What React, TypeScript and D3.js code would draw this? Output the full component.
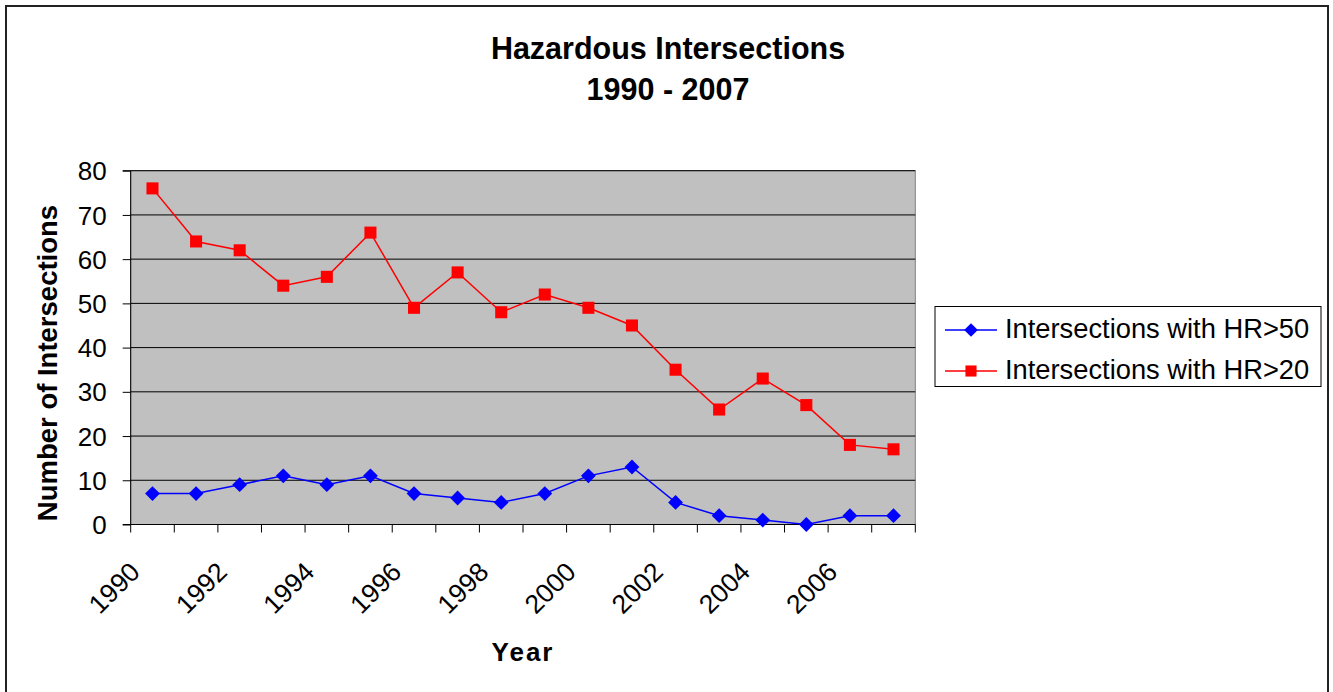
import * as d3 from 'd3';
import { useEffect, useRef, type FC } from 'react';

const years = d3.range(1990, 2008).map(String);
const hr50 = [7, 7, 9, 11, 9, 11, 7, 6, 5, 7, 11, 13, 5, 2, 1, 0, 2, 2];
const hr20 = [76, 64, 62, 54, 56, 66, 49, 57, 48, 52, 49, 45, 35, 26, 33, 27, 18, 17];
const yTicks = [0, 10, 20, 30, 40, 50, 60, 70, 80];
const seriesNames = ['Intersections with HR>50', 'Intersections with HR>20'];

const W = 1333;
const H = 692;
const font = 'Liberation Sans, Arial, sans-serif';

const App: FC = () => {
	const ref = useRef<SVGSVGElement>(null);

	useEffect(() => {
		const svg = d3.select(ref.current);
		svg.selectAll('*').remove();

		const margin = { left: 130.7, top: 170.7, right: 915.3, bottom: 524.5 };

		// рамка всей диаграммы
		svg
			.append('rect')
			.attr('x', 6)
			.attr('y', 6)
			.attr('width', 1322)
			.attr('height', 700)
			.attr('fill', '#fff')
			.attr('stroke', '#222')
			.attr('stroke-width', 2);

		const x = d3.scaleBand().domain(years).range([margin.left, margin.right]);
		const y = d3.scaleLinear().domain([0, 80]).range([margin.bottom, margin.top]);

		svg
			.append('rect')
			.attr('x', margin.left)
			.attr('y', margin.top)
			.attr('width', margin.right - margin.left)
			.attr('height', margin.bottom - margin.top)
			.attr('fill', '#c0c0c0')
			.attr('stroke', '#808080')
			.attr('stroke-width', 1);

		// сетка
		svg
			.append('g')
			.selectAll('line')
			.data(yTicks.filter((t) => t > 0))
			.enter()
			.append('line')
			.attr('x1', margin.left)
			.attr('x2', margin.right)
			.attr('y1', (d) => y(d))
			.attr('y2', (d) => y(d))
			.attr('stroke', '#000')
			.attr('stroke-width', 1);

		// ось Y
		const yAxis = d3.axisLeft(y).tickValues(yTicks).tickSize(8).tickPadding(16);
		const gy = svg.append('g').attr('transform', `translate(${margin.left},0)`).call(yAxis);
		gy.select('.domain').attr('stroke', '#000').attr('d', `M-8,${margin.bottom}H0V${margin.top}H-8`);
		gy.selectAll('line').attr('stroke', '#000');
		gy.selectAll('text').attr('font-family', font).attr('font-size', 26).attr('fill', '#000').attr('dy', '0.35em');

		// ось X
		const boundaries = d3.range(0, years.length + 1).map((i) => margin.left + i * x.step());
		svg
			.append('line')
			.attr('x1', margin.left)
			.attr('x2', margin.right)
			.attr('y1', margin.bottom)
			.attr('y2', margin.bottom)
			.attr('stroke', '#000');
		svg
			.append('g')
			.selectAll('line')
			.data(boundaries)
			.enter()
			.append('line')
			.attr('x1', (d) => d)
			.attr('x2', (d) => d)
			.attr('y1', margin.bottom)
			.attr('y2', margin.bottom + 8)
			.attr('stroke', '#000');

		svg
			.append('g')
			.selectAll('text')
			.data(years.filter((_, i) => i % 2 === 0))
			.enter()
			.append('text')
			.attr('font-family', font)
			.attr('font-size', 26.5)
			.attr('text-anchor', 'end')
			.attr('transform', (d) => `translate(${x(d)! + x.bandwidth() / 2 - 11},${margin.bottom + 49}) rotate(-45)`)
			.text((d) => d);

		// линии
		const line = d3
			.line<number>()
			.x((_, i) => x(years[i])! + x.bandwidth() / 2)
			.y((d) => y(d));

		const series = [
			{ values: hr50, color: '#0000ff', shape: d3.symbolDiamond2, size: 140 },
			{ values: hr20, color: '#ff0000', shape: d3.symbolSquare2, size: 185 },
		];

		series.forEach((s) => {
			svg
				.append('path')
				.attr('d', line(s.values))
				.attr('fill', 'none')
				.attr('stroke', s.color)
				.attr('stroke-width', 1.5);
			svg
				.append('g')
				.selectAll('path')
				.data(s.values)
				.enter()
				.append('path')
				.attr('d', d3.symbol(s.shape, s.size)()!)
				.attr('transform', (d, i) => `translate(${x(years[i])! + x.bandwidth() / 2},${y(d)})`)
				.attr('fill', s.color);
		});

		// заголовки
		const title = svg
			.append('text')
			.attr('font-family', font)
			.attr('font-size', 30.5)
			.attr('font-weight', 'bold')
			.attr('text-anchor', 'middle');
		title.append('tspan').attr('x', 668).attr('y', 59).text('Hazardous Intersections');
		title.append('tspan').attr('x', 668).attr('y', 100).text('1990 - 2007');

		svg
			.append('text')
			.attr('x', 523)
			.attr('y', 661)
			.attr('font-family', font)
			.attr('font-size', 26)
			.attr('font-weight', 'bold')
			.attr('letter-spacing', 2)
			.attr('text-anchor', 'middle')
			.text('Year');

		svg
			.append('text')
			.attr('transform', `translate(57,363) rotate(-90)`)
			.attr('font-family', font)
			.attr('font-size', 27.5)
			.attr('font-weight', 'bold')
			.attr('text-anchor', 'middle')
			.text('Number of Intersections');

		// легенда
		const legend = svg.append('g');
		legend
			.append('rect')
			.attr('x', 935)
			.attr('y', 306.5)
			.attr('width', 386)
			.attr('height', 80)
			.attr('fill', '#fff')
			.attr('stroke', '#000');
		series.forEach((s, i) => {
			const cy = 330 + i * 41;
			legend
				.append('line')
				.attr('x1', 945)
				.attr('x2', 997)
				.attr('y1', cy)
				.attr('y2', cy)
				.attr('stroke', s.color)
				.attr('stroke-width', 1.5);
			legend
				.append('path')
				.attr('d', d3.symbol(s.shape, s.size * 0.85)()!)
				.attr('transform', `translate(971,${cy})`)
				.attr('fill', s.color);
			legend
				.append('text')
				.attr('x', 1005)
				.attr('y', cy + 8)
				.attr('font-family', font)
				.attr('font-size', 27.3)
				.text(seriesNames[i]);
		});
	}, []);

	return (
		<div style={{ position: 'absolute', left: 0, top: 0 }}>
			<svg ref={ref} width={W} height={H} style={{ display: 'block' }}></svg>
		</div>
	);
};

export default App;
